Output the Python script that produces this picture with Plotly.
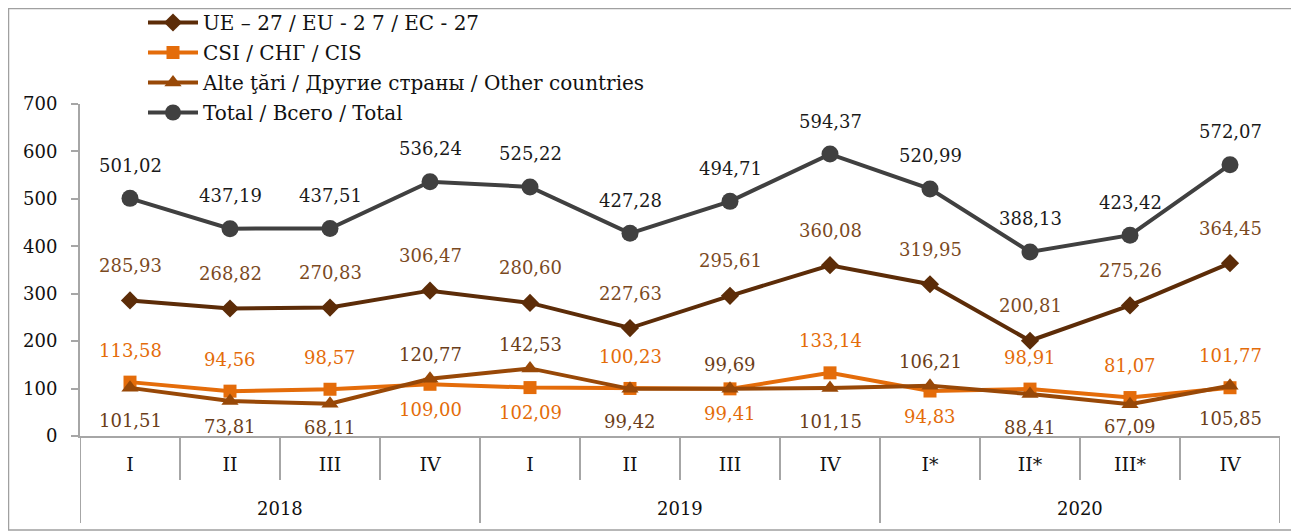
import plotly.graph_objects as go

quarters = ["I", "II", "III", "IV", "I", "II", "III", "IV", "I*", "II*", "III*", "IV"]
years = ["2018", "2019", "2020"]
ue27 = [285.93, 268.82, 270.83, 306.47, 280.60, 227.63, 295.61, 360.08, 319.95, 200.81, 275.26, 364.45]
cis = [113.58, 94.56, 98.57, 109.00, 102.09, 100.23, 99.41, 133.14, 94.83, 98.91, 81.07, 101.77]
other = [101.51, 73.81, 68.11, 120.77, 142.53, 99.42, 99.69, 101.15, 106.21, 88.41, 67.09, 105.85]
total = [501.02, 437.19, 437.51, 536.24, 525.22, 427.28, 494.71, 594.37, 520.99, 388.13, 423.42, 572.07]

names = ["UE – 27 / EU - 2 7 / EC - 27", "CSI / СНГ / CIS",
         "Alte ţări / Другие страны / Other countries", "Total / Всего / Total"]

# label placement (style): 'a' above, 'b' below
pos_ue = ["a"] * 12
pos_total = ["a"] * 12
pos_cis = ["a", "a", "a", "b", "b", "a", "b", "a", "b", "a", "a", "a"]
pos_other = ["b", "b", "b", "a", "a", "b", "a", "b", "a", "b", "b", "b"]

FONT = "DejaVu Serif"
xs = list(range(12))

W, H, L, R, T, B = 1291, 524, 72, 19, 96, 96
pw, ph = W - L - R, H - T - B
YMAX = 700
ppu = ph / YMAX  # pixels per unit, used only to keep labels inside the plot area

series = [
    (ue27, names[0], "#5C2C08", "diamond", 14, "#7B4A1F", pos_ue, -35, 30),
    (cis, names[1], "#E46C0A", "square", 13, "#E46C0A", pos_cis, -32, 25),
    (other, names[2], "#984807", "triangle-up", 15, "#6B3E1A", pos_other, -24, 33),
    (total, names[3], "#404040", "circle", 17, "#1A1A1A", pos_total, -33, 30),
]

fig = go.Figure()
annotations = []
for i, (vals, nm, col, sym, ms, tcol, pos, up, down) in enumerate(series):
    fig.add_trace(go.Scatter(
        x=xs, y=vals, name=nm, mode="lines+markers", legendgroup=str(i),
        line=dict(color=col, width=4),
        marker=dict(symbol=sym, size=ms, color=col),
    ))
    for x, v, p in zip(xs, vals, pos):
        if p == "a":
            shift = -up
        else:
            shift = -min(down, v * ppu - 9)
        annotations.append(dict(
            x=x, y=v, xref="x", yref="y", showarrow=False,
            text=f"{v:.2f}".replace(".", ","),
            yshift=shift,
            font=dict(family=FONT, size=18, color=tcol),
        ))

# year labels
for k, yr in enumerate(years):
    annotations.append(dict(x=4 * k + 1.5, y=-0.217, xref="x", yref="paper",
                            text=yr, showarrow=False, yanchor="middle",
                            font=dict(family=FONT, size=18, color="#111111")))

shapes = []
gray = "#A6A6A6"
for b in range(13):
    xb = b - 0.5
    long = (b % 4 == 0)
    shapes.append(dict(type="line", xref="x", yref="paper", x0=xb, x1=xb,
                       y0=0, y1=-0.262 if long else -0.1325,
                       line=dict(color=gray, width=2)))
# outer border
shapes.append(dict(type="rect", xref="paper", yref="paper",
                   x0=(0.5 - L) / pw, x1=(1287 - L) / pw,
                   y0=(H - T - 522) / ph, y1=(H - T - 0.5) / ph,
                   line=dict(color="#A0A0A0", width=1.5)))

fig.update_layout(
    width=W, height=H,
    margin=dict(l=L, r=R, t=T, b=B, autoexpand=False),
    paper_bgcolor="white", plot_bgcolor="white",
    font=dict(family=FONT, size=18, color="#111111"),
    showlegend=True,
    legend=dict(x=(135 - L) / pw, y=1 + (T + 5) / ph, xanchor="left", yanchor="top",
                bgcolor="rgba(0,0,0,0)", font=dict(family=FONT, size=20, color="#111111"),
                tracegroupgap=1, itemwidth=50),
    annotations=annotations,
    shapes=shapes,
    xaxis=dict(range=[-0.5, 11.5], tickvals=xs, ticktext=quarters, showgrid=False,
               zeroline=False, showline=True, linecolor=gray, linewidth=2,
               ticks="", ticklabelstandoff=10,
               tickfont=dict(family=FONT, size=19, color="#111111")),
    yaxis=dict(range=[0, YMAX], tickvals=[0, 100, 200, 300, 400, 500, 600, 700],
               showgrid=False, zeroline=False, showline=True, linecolor=gray, linewidth=2,
               ticks="outside", ticklen=7, tickcolor=gray, tickwidth=2,
               ticklabelstandoff=10,
               tickfont=dict(family=FONT, size=18, color="#111111")),
)

fig.write_html("out.html")
